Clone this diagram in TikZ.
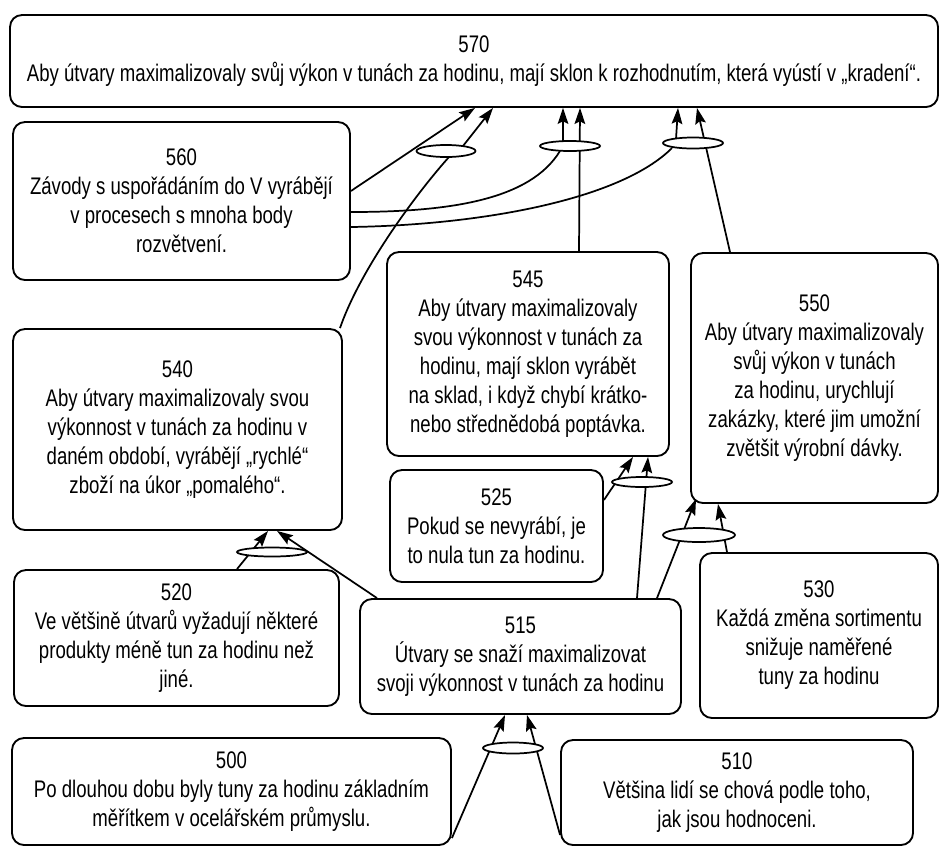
\documentclass[tikz,border=0pt]{standalone}
\usepackage{fontspec}
\setmainfont[FakeStretch=0.775]{Liberation Sans}
\usetikzlibrary{arrows.meta,shapes.geometric,backgrounds}
\newcommand\mkbox[6]{%
  \pgfmathsetmacro\bxcx{(#2+#4)/2}%
  \pgfmathsetmacro\bxcy{(#3+#5)/2}%
  \pgfmathsetmacro\bxw{(#4-#2)*0.75}%
  \pgfmathsetmacro\bxh{(#5-#3)*0.75}%
  \node[box, minimum width=\bxw pt, minimum height=\bxh pt] (#1) at (\bxcx,\bxcy) {#6};}
\newcommand\mkjunc[5]{%
  \pgfmathsetmacro\bxw{#4*0.75}%
  \pgfmathsetmacro\bxh{#5*0.75}%
  \node[junc, minimum width=\bxw pt, minimum height=\bxh pt] (#1) at (#2,#3) {};}
\begin{document}
\begin{tikzpicture}[x=0.75pt, y=-0.75pt,
  box/.style={draw, rounded corners=9pt, line width=1.4pt, align=center, inner sep=0pt,
    font=\fontsize{18}{21.75}\selectfont},
  junc/.style={draw, ellipse, fill=white, line width=1.3pt, inner sep=0pt},
  conn/.style={line width=1.3pt},
  arr/.style={conn, -{Stealth[length=12pt,width=8pt,inset=2pt]}}]
\useasboundingbox (0,0) rectangle (941,847);
\begin{scope}[on background layer]
  \fill[white] (0,0) rectangle (941,847);
\end{scope}

% boxes
\mkbox{n570}{10}{15}{938}{107}{570\\Aby útvary maximalizovaly svůj výkon v tunách za hodinu, mají sklon k rozhodnutím, která vyústí v „kradení“.}
\mkbox{n560}{13}{122}{350}{280}{560\\Závody s uspořádáním do V vyrábějí\\v procesech s mnoha body\\rozvětvení.}
\mkbox{n545}{387}{252}{669}{456}{545\\Aby útvary maximalizovaly\\svou výkonnost v tunách za\\hodinu, mají sklon vyrábět\\na sklad, i když chybí krátko-\\nebo střednědobá poptávka.}
\mkbox{n550}{691}{253}{938}{503}{550\\Aby útvary maximalizovaly\\svůj výkon v tunách\\za hodinu, urychlují\\zakázky, které jim umožní\\zvětšit výrobní dávky.}
\mkbox{n540}{13}{329}{342}{530}{540\\Aby útvary maximalizovaly svou\\výkonnost v tunách za hodinu v\\daném období, vyrábějí „rychlé“\\zboží na úkor „pomalého“.}
\mkbox{n525}{390}{470}{603}{582}{525\\Pokud se nevyrábí, je\\to nula tun za hodinu.}
\mkbox{n520}{14}{570}{339}{706}{520\\Ve většině útvarů vyžadují některé\\produkty méně tun za hodinu než\\jiné.}
\mkbox{n515}{360}{599}{681}{714}{515\\Útvary se snaží maximalizovat\\svoji výkonnost v tunách za hodinu}
\mkbox{n530}{700}{553}{938}{718}{530\\Každá změna sortimentu\\snižuje naměřené\\tuny za hodinu}
\mkbox{n500}{12}{738}{451}{845}{500\\Po dlouhou dobu byly tuny za hodinu základním\\měřítkem v ocelářském průmyslu.}
\mkbox{n510}{561}{740}{913}{845}{510\\Většina lidí se chová podle toho,\\jak jsou hodnoceni.}

% junctions
\mkjunc{e1}{446}{151}{59}{12}
\mkjunc{e2}{570}{146}{60}{10}
\mkjunc{e3}{693}{143}{60}{11}
\mkjunc{e4}{642}{482}{60}{10}
\mkjunc{e5}{699}{535}{72}{14}
\mkjunc{e6}{272}{552}{70}{9}
\mkjunc{e7}{513}{748}{60}{11}

\coordinate (t550) at (696,499);

\begin{scope}[on background layer]
  % into 570
  \draw[arr] (n560.east |- 0,191) -- (475,0 |- n570.south);
  \draw[conn] (340,0 |- n540.north) .. controls (360,270) and (415,195) .. (449,157);
  \draw[arr] (463,146) -- (493,0 |- n570.south);
  \draw[conn] (n560.east |- 0,212) .. controls (450,212) and (530,200) .. (560,151);
  \draw[arr] (563,141) -- (563,0 |- n570.south);
  \draw[arr] (579,0 |- n545.north) -- (580,0 |- n570.south);
  \draw[conn] (n560.east |- 0,227) .. controls (480,225) and (620,200) .. (672,148);
  \draw[arr] (676,139) -- (678,0 |- n570.south);
  \draw[arr] (730,0 |- n550.north) -- (697,0 |- n570.south);
  % into 545
  \draw[arr] (n525.east |- 0,500) -- (633,0 |- n545.south);
  \draw[arr] (637,0 |- n515.north) -- (648,0 |- n545.south);
  % into 550
  \draw[arr] (657,0 |- n515.north) -- (t550);
  \draw[arr] (727,0 |- n530.north) -- (718,0 |- n550.south);
  % into 540
  \draw[arr] (237,0 |- n520.north) -- (268,0 |- n540.south);
  \draw[arr] (377,0 |- n515.north) -- (277,0 |- n540.south);
  % into 515
  \draw[arr] (n500.east |- 0,838) -- (505,0 |- n515.south);
  \draw[arr] (n510.west |- 0,835) -- (527,0 |- n515.south);
\end{scope}
\end{tikzpicture}
\end{document}
